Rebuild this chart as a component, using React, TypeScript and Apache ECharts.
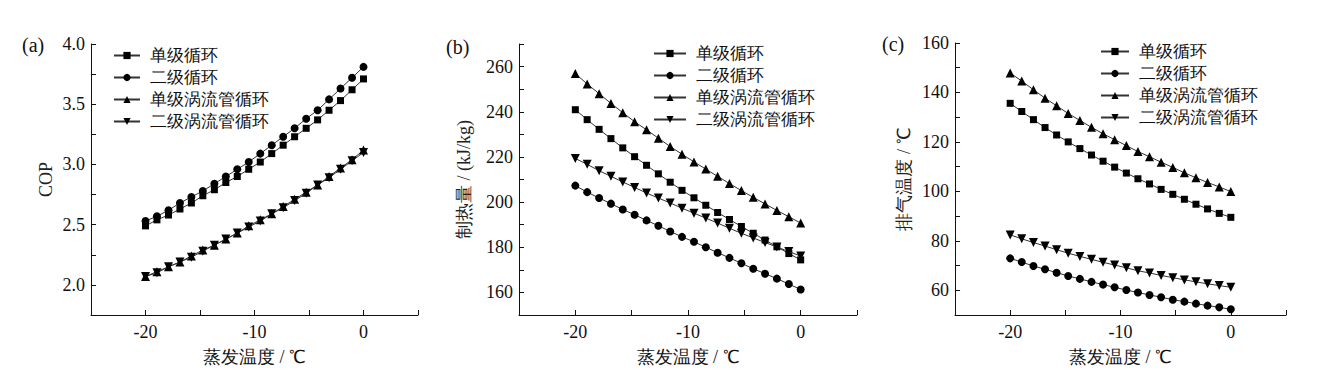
import React, { useEffect, useRef } from "react";
import * as echarts from "echarts";

const evapTemp = [-20, -18.95, -17.89, -16.84, -15.79, -14.74, -13.68, -12.63, -11.58, -10.53, -9.47, -8.42, -7.37, -6.32, -5.26, -4.21, -3.16, -2.11, -1.05, 0];

const seriesNames = ["单级循环", "二级循环", "单级涡流管循环", "二级涡流管循环"];

// (a) COP
const copSingle = [2.49, 2.54, 2.58, 2.63, 2.68, 2.74, 2.79, 2.85, 2.9, 2.96, 3.02, 3.09, 3.16, 3.23, 3.3, 3.37, 3.45, 3.53, 3.62, 3.71];
const copTwo = [2.53, 2.57, 2.62, 2.68, 2.73, 2.78, 2.84, 2.9, 2.96, 3.02, 3.09, 3.16, 3.23, 3.3, 3.38, 3.45, 3.54, 3.63, 3.72, 3.81];
const copSingleVT = [2.07, 2.11, 2.15, 2.19, 2.24, 2.29, 2.33, 2.38, 2.43, 2.49, 2.54, 2.59, 2.65, 2.71, 2.77, 2.83, 2.9, 2.97, 3.04, 3.12];
const copTwoVT = [2.07, 2.1, 2.15, 2.19, 2.23, 2.28, 2.33, 2.38, 2.43, 2.48, 2.53, 2.59, 2.64, 2.7, 2.76, 2.83, 2.89, 2.96, 3.03, 3.1];

// (b) heating capacity, kJ/kg
const heatSingle = [240.9, 236.5, 232.2, 228.1, 224.0, 220.1, 216.3, 212.5, 208.8, 205.2, 201.9, 198.6, 195.4, 192.3, 189.2, 186.2, 183.2, 180.2, 177.2, 174.4];
const heatTwo = [207.3, 204.4, 201.8, 199.3, 196.7, 194.4, 191.9, 189.5, 187.0, 184.6, 182.4, 180.0, 177.6, 175.3, 172.9, 170.5, 168.3, 166.1, 163.7, 161.3];
const heatSingleVT = [256.9, 252.3, 248.0, 243.7, 239.6, 235.6, 232.0, 228.3, 224.6, 221.2, 217.8, 214.6, 211.4, 208.2, 205.1, 202.1, 199.2, 196.3, 193.5, 190.7];
const heatTwoVT = [219.3, 216.7, 213.9, 211.4, 208.9, 206.5, 204.0, 201.8, 199.6, 197.3, 195.1, 192.9, 190.7, 188.4, 186.2, 184.1, 182.1, 180.1, 178.1, 176.1];

// (c) discharge temperature, ℃
const dischSingle = [135.6, 132.3, 129.0, 125.8, 122.8, 120.0, 117.3, 114.7, 112.2, 109.8, 107.4, 105.1, 103.0, 100.8, 98.8, 96.8, 94.8, 92.9, 91.1, 89.5];
const dischTwo = [72.9, 71.4, 69.8, 68.5, 67.1, 65.8, 64.6, 63.4, 62.3, 61.2, 60.1, 59.1, 58.1, 57.2, 56.2, 55.4, 54.6, 53.8, 53.1, 52.3];
const dischSingleVT = [147.9, 144.6, 141.1, 137.7, 134.6, 131.5, 128.7, 125.9, 123.3, 120.9, 118.5, 116.1, 114.0, 111.8, 109.7, 107.5, 105.5, 103.6, 101.8, 99.9];
const dischTwoVT = [82.4, 80.8, 79.3, 77.9, 76.4, 75.0, 73.7, 72.5, 71.3, 70.2, 69.1, 67.9, 67.0, 66.0, 65.1, 64.2, 63.4, 62.6, 61.9, 61.2];

const xTickLabels = [-20, -10, 0];
const panelLabels = ["(a)", "(b)", "(c)"];
const yNames = ["COP", "制热量 / (kJ/kg)", "排气温度 / ℃"];
const xName = "蒸发温度 / ℃";

const FONT = "Liberation Serif";
const INK = "#111";

const symbols = [
  { symbol: "rect", size: 7, rotate: 0 },
  { symbol: "circle", size: 8, rotate: 0 },
  { symbol: "triangle", size: 9, rotate: 0 },
  { symbol: "triangle", size: 9, rotate: 180 },
];

export default function App() {
  const ref = useRef<HTMLDivElement>(null);
  useEffect(() => {
    if (!ref.current) return;
    const chart = echarts.init(ref.current, null, { renderer: "svg" });

    const grids = [
      { left: 91, top: 44, width: 327, height: 271 },
      { left: 519, top: 44, width: 338, height: 271 },
      { left: 955, top: 43, width: 331, height: 272 },
    ];
    const yCfg = [
      { min: 1.75, max: 4.0, interval: 0.25, nameGap: 36, fmt: (v: number) => (Math.abs(v * 2 - Math.round(v * 2)) < 1e-6 ? v.toFixed(1) : "") },
      { min: 150, max: 270, interval: 10, nameGap: 46, fmt: (v: number) => (Math.round(v) % 20 === 0 ? String(Math.round(v)) : "") },
      { min: 50, max: 160, interval: 10, nameGap: 42, fmt: (v: number) => (Math.round(v) % 20 === 0 ? String(Math.round(v)) : "") },
    ];
    const panelData = [
      [copSingle, copTwo, copSingleVT, copTwoVT],
      [heatSingle, heatTwo, heatSingleVT, heatTwoVT],
      [dischSingle, dischTwo, dischSingleVT, dischTwoVT],
    ];
    const legendPos = [
      { left: 113, top: 47, itemWidth: 26 },
      { left: 653, top: 45, itemWidth: 32 },
      { left: 1100, top: 43, itemWidth: 28 },
    ];
    const labelPos = [
      { x: 22, y: 46 },
      { x: 446, y: 48 },
      { x: 882, y: 45 },
    ];

    const axisCommon = {
      axisLine: { show: true, onZero: false, lineStyle: { color: INK, width: 1 } },
      axisTick: { show: true, inside: true, length: 5, lineStyle: { color: INK, width: 1 } },
      splitLine: { show: false },
    };

    const xAxis = grids.map((_, i) => ({
      type: "value",
      gridIndex: i,
      min: -25,
      max: 5,
      interval: 5,
      ...axisCommon,
      axisLabel: {
        color: INK,
        fontFamily: FONT,
        fontSize: 18,
        margin: 8,
        formatter: (v: number) => (xTickLabels.indexOf(Math.round(v)) >= 0 ? String(Math.round(v)) : ""),
      },
      name: xName,
      nameLocation: "middle",
      nameGap: 33,
      nameTextStyle: { color: INK, fontFamily: FONT, fontSize: 18 },
    }));

    const yAxis = grids.map((_, i) => ({
      type: "value",
      gridIndex: i,
      min: yCfg[i].min,
      max: yCfg[i].max,
      interval: yCfg[i].interval,
      ...axisCommon,
      axisLabel: {
        color: INK,
        fontFamily: FONT,
        fontSize: 18,
        margin: 6,
        showMinLabel: true,
        showMaxLabel: true,
        formatter: yCfg[i].fmt,
      },
      name: yNames[i],
      nameLocation: "middle",
      nameRotate: 90,
      nameGap: yCfg[i].nameGap,
      nameTextStyle: { color: "#222", fontFamily: FONT, fontSize: 18 },
    }));

    const series: any[] = [];
    panelData.forEach((group, gi) => {
      group.forEach((vals, si) => {
        series.push({
          type: "line",
          name: seriesNames[si],
          xAxisIndex: gi,
          yAxisIndex: gi,
          data: evapTemp.map((x, k) => [x, vals[k]]),
          symbol: symbols[si].symbol,
          symbolSize: symbols[si].size,
          symbolRotate: symbols[si].rotate,
          showSymbol: true,
          lineStyle: { color: "#333", width: 1 },
          itemStyle: { color: "#000" },
          z: 2 + si,
        });
      });
    });

    const legend = legendPos.map((p) => ({
      show: true,
      orient: "vertical",
      left: p.left,
      top: p.top,
      itemWidth: p.itemWidth,
      itemHeight: 9,
      itemGap: 5,
      padding: 0,
      data: seriesNames,
      selectedMode: false,
      textStyle: { color: INK, fontFamily: FONT, fontSize: 17, lineHeight: 17, padding: [0, 0, 0, 5] },
    }));

    const graphic = labelPos.map((p, i) => ({
      type: "text",
      left: p.x,
      top: p.y - 11,
      style: { text: panelLabels[i], fontFamily: FONT, fontSize: 20, fill: INK },
    }));

    chart.setOption({
      animation: false,
      backgroundColor: "#fff",
      textStyle: { fontFamily: FONT },
      grid: grids,
      xAxis,
      yAxis,
      series,
      legend,
      graphic,
    });
    return () => chart.dispose();
  }, []);
  return <div ref={ref} style={{ position: "fixed", left: 0, top: 0, width: 1322, height: 372 }} />;
}
